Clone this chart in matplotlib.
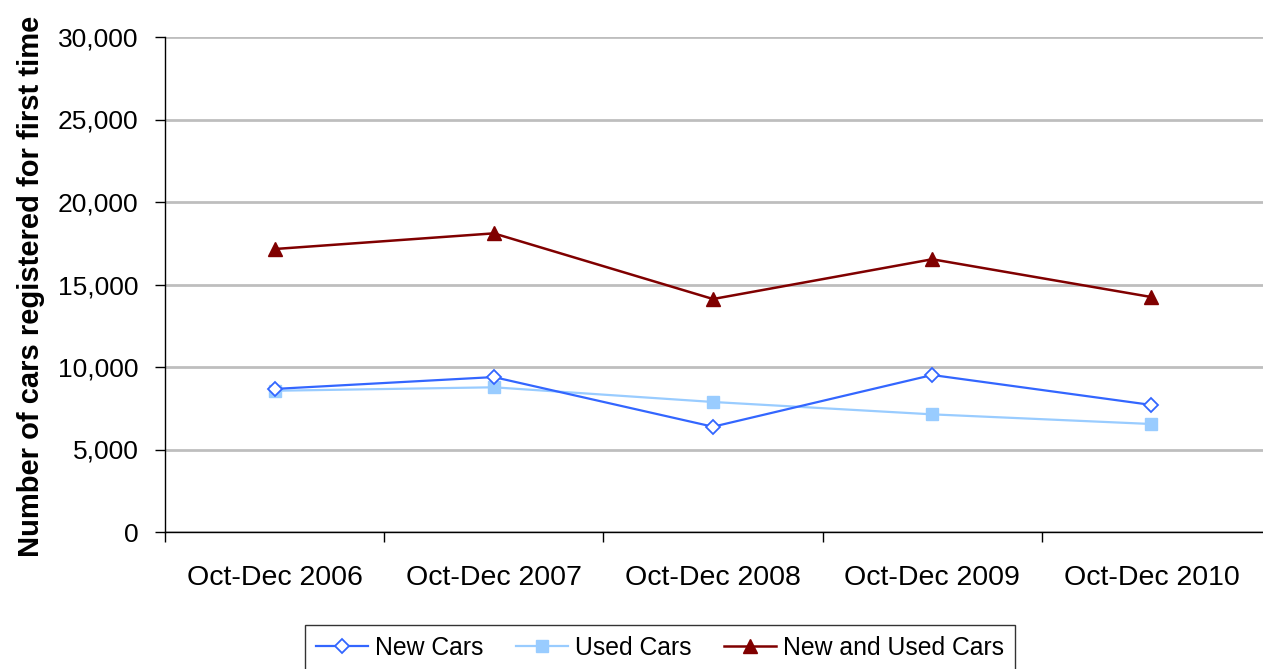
import matplotlib
matplotlib.use("Agg")
import matplotlib.pyplot as plt
from matplotlib.ticker import FuncFormatter, MultipleLocator, FixedLocator

categories = ["Oct-Dec 2006", "Oct-Dec 2007", "Oct-Dec 2008", "Oct-Dec 2009", "Oct-Dec 2010"]
new_cars = [8670, 9390, 6380, 9515, 7700]
used_cars = [8560, 8770, 7880, 7130, 6545]
new_and_used = [17150, 18100, 14120, 16530, 14240]

plt.rcParams['font.family'] = ['Liberation Sans', 'DejaVu Sans']

W, H = 1263, 669
fig = plt.figure(figsize=(W / 100, H / 100), dpi=100)
ax = fig.add_axes([165 / W, 1 - 532 / H, (1263 - 165) / W, (532 - 37) / H])

x = list(range(len(categories)))
ax.plot(x, new_cars, color="#3366FF", lw=1.6, marker="D", markersize=7,
        markerfacecolor="white", markeredgecolor="#3366FF", markeredgewidth=1.3,
        label="New Cars", zorder=4)
ax.plot(x, used_cars, color="#99CCFF", lw=1.6, marker="s", markersize=8,
        markerfacecolor="#99CCFF", markeredgecolor="#99CCFF", label="Used Cars", zorder=3)
ax.plot(x, new_and_used, color="#800000", lw=1.8, marker="^", markersize=10,
        markerfacecolor="#800000", markeredgecolor="#800000", label="New and Used Cars", zorder=3)

ax.set_xlim(-0.5, len(categories) - 0.5 + (2 / 220))
ax.set_ylim(0, 30000)
ax.yaxis.set_major_locator(MultipleLocator(5000))
ax.yaxis.set_major_formatter(FuncFormatter(lambda v, p: f"{int(v):,}"))
ax.grid(axis="y", color="#BEBEBE", lw=2)
ax.set_axisbelow(True)

ax.set_xticks(x)
ax.set_xticklabels(categories)
ax.xaxis.set_minor_locator(FixedLocator([i + 0.5 for i in range(-1, len(categories) - 1)]))
ax.tick_params(axis="x", which="major", length=0, pad=24, labelsize=20.5)
ax.tick_params(axis="x", which="minor", length=7, width=1, color="black")
ax.tick_params(axis="y", which="major", length=7, width=1, labelsize=19, pad=12)

for s in ["top", "right"]:
    ax.spines[s].set_visible(False)
for s in ["left", "bottom"]:
    ax.spines[s].set_color("black")
    ax.spines[s].set_linewidth(1)

fig.text(31 / W, 1 - 286 / H, "Number of cars registered for first time", rotation=90,
         ha="center", va="center", fontsize=21, fontweight="bold")

leg = fig.legend(loc="upper left", bbox_to_anchor=(305 / W, 1 - 625 / H), ncol=3,
                 fontsize=17.8, frameon=True, fancybox=False, edgecolor="black",
                 handlelength=2.1, handletextpad=0.3, columnspacing=1.3,
                 borderpad=0.45, borderaxespad=0)
leg.get_frame().set_linewidth(1)

fig.savefig("out.png", dpi=100)
